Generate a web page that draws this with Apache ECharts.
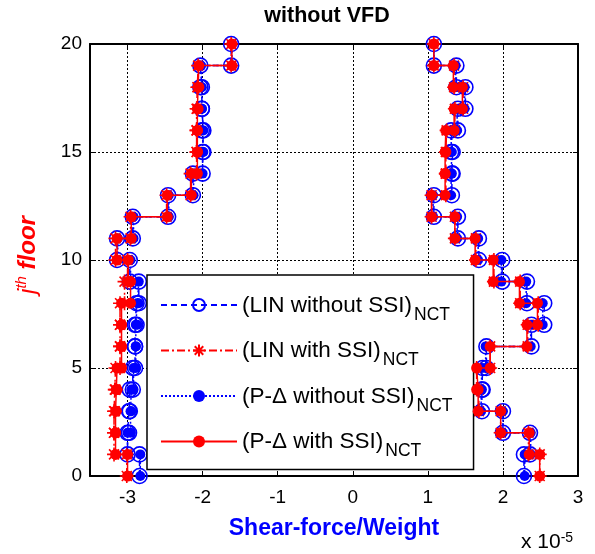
<!DOCTYPE html>
<html>
<head>
<meta charset="utf-8">
<script src="https://cdn.jsdelivr.net/npm/echarts@6/dist/echarts.min.js"></script>
<style>
  html, body { margin: 0; padding: 0; background: #ffffff; }
  #chart { width: 595px; height: 554px; }
</style>
</head>
<body>
<div id="chart"></div>
<script>
// Tick positions
const xTicks = [-3, -2, -1, 0, 1, 2, 3];
const yTicks = [0, 5, 10, 15, 20];

// Legend entries
const seriesNames = ['(LIN without SSI)', '(LIN with SSI)', '(P-\u0394 without SSI)', '(P-\u0394 with SSI)'];

// Story shear / weight (x 10^-5), stories 1..20 — negative envelope
const linNoSsiMin = [-2.84, -3.00, -2.98, -2.97, -2.93, -2.90, -2.90, -2.88, -2.85, -2.97,
                     -3.14, -2.93, -2.46, -2.13, -2.00, -1.99, -2.01, -2.01, -2.03, -1.62];
const linSsiMin   = [-3.01, -3.18, -3.18, -3.17, -3.16, -3.10, -3.10, -3.10, -3.04, -3.00,
                     -3.16, -2.96, -2.48, -2.16, -2.08, -2.08, -2.08, -2.07, -2.06, -1.62];
const pdNoSsiMin  = [-2.83, -3.00, -2.96, -2.95, -2.92, -2.89, -2.89, -2.87, -2.85, -2.96,
                     -3.13, -2.92, -2.45, -2.12, -2.00, -1.99, -2.01, -2.01, -2.02, -1.61];
const pdSsiMin    = [-3.00, -3.16, -3.16, -3.15, -3.14, -3.08, -3.08, -3.08, -2.96, -2.99,
                     -3.14, -2.95, -2.47, -2.15, -2.07, -2.07, -2.07, -2.06, -2.05, -1.61];

// Story shear / weight (x 10^-5), stories 1..20 — positive envelope
const linNoSsiMax = [2.28, 2.36, 2.00, 1.72, 1.73, 1.78, 2.38, 2.55, 2.32, 1.99,
                     1.68, 1.40, 1.08, 1.32, 1.33, 1.31, 1.40, 1.50, 1.38, 1.08];
const linSsiMax   = [2.49, 2.34, 1.97, 1.68, 1.65, 1.83, 2.33, 2.47, 2.23, 1.88,
                     1.64, 1.36, 1.05, 1.24, 1.24, 1.25, 1.36, 1.47, 1.35, 1.08];
const pdNoSsiMax  = [2.29, 2.37, 2.00, 1.71, 1.72, 1.77, 2.37, 2.53, 2.31, 1.98,
                     1.67, 1.39, 1.07, 1.31, 1.32, 1.30, 1.39, 1.49, 1.37, 1.08];
const pdSsiMax    = [2.49, 2.35, 1.97, 1.67, 1.65, 1.83, 2.32, 2.46, 2.22, 1.87,
                     1.63, 1.36, 1.05, 1.23, 1.23, 1.24, 1.35, 1.46, 1.34, 1.08];

// Each story value is held constant from floor (i) to floor (i+1)
function storySteps(values) {
  const pts = [];
  values.forEach(function (v, i) {
    pts.push([v, i]);
    pts.push([v, i + 1]);
  });
  return pts;
}

const BLUE = '#0000ff';
const RED = '#ff0000';
const FONT = 'Liberation Sans, Arial, sans-serif';
const ASTERISK = 'path://M0,-10L0,10M-10,0L10,0M-7.1,-7.1L7.1,7.1M-7.1,7.1L7.1,-7.1';

const styles = [
  { color: BLUE, dash: [6, 4], symbol: 'circle', size: 15,
    item: { color: 'rgba(0,0,0,0)', borderColor: BLUE, borderWidth: 1.6 } },
  { color: RED, dash: [8, 3, 2, 3], symbol: ASTERISK, size: 14,
    item: { color: RED, borderColor: RED, borderWidth: 1.6 } },
  { color: BLUE, dash: [2, 2], symbol: 'circle', size: 10,
    item: { color: BLUE, borderColor: BLUE, borderWidth: 0 } },
  { color: RED, dash: 'solid', symbol: 'circle', size: 11,
    item: { color: RED, borderColor: RED, borderWidth: 0 } }
];

const minSets = [linNoSsiMin, linSsiMin, pdNoSsiMin, pdSsiMin];
const maxSets = [linNoSsiMax, linSsiMax, pdNoSsiMax, pdSsiMax];

const series = [];
seriesNames.forEach(function (name, k) {
  const st = styles[k];
  [minSets[k], maxSets[k]].forEach(function (vals) {
    series.push({
      name: name,
      type: 'line',
      data: storySteps(vals),
      symbol: st.symbol,
      symbolSize: st.size,
      showAllSymbol: true,
      lineStyle: { color: st.color, width: 1.5, type: st.dash },
      itemStyle: st.item,
      z: 2 + k
    });
  });
});

const frameLine = { show: true, onZero: false, lineStyle: { color: '#000', width: 2 } };
const innerTick = function (vals) {
  return { show: true, inside: true, length: 5, customValues: vals, lineStyle: { color: '#000', width: 1 } };
};

const chart = echarts.init(document.getElementById('chart'), null, { renderer: 'canvas' });
chart.setOption({
  animation: false,
  backgroundColor: '#ffffff',
  grid: { left: 90, right: 17, top: 44, bottom: 78, containLabel: false },
  xAxis: [
    {
      type: 'value', position: 'bottom', min: -3.5, max: 3,
      axisLine: frameLine,
      axisTick: innerTick(xTicks),
      axisLabel: { customValues: xTicks, color: '#000', fontSize: 19, fontFamily: FONT, margin: 12 },
      splitLine: { show: true, lineStyle: { color: '#000', width: 1, type: [2, 2] } },
      name: 'Shear-force/Weight',
      nameLocation: 'middle',
      nameGap: 41,
      nameTextStyle: { color: BLUE, fontWeight: 'bold', fontSize: 23, fontFamily: FONT }
    },
    {
      type: 'value', position: 'top', min: -3.5, max: 3,
      axisLine: frameLine,
      axisTick: innerTick(xTicks),
      axisLabel: { show: false },
      splitLine: { show: false }
    }
  ],
  yAxis: [
    {
      type: 'value', position: 'left', min: 0, max: 20, interval: 5,
      axisLine: frameLine,
      axisTick: { show: true, inside: true, length: 5, lineStyle: { color: '#000' } },
      axisLabel: { color: '#000', fontSize: 19, fontFamily: FONT, margin: 8 },
      splitLine: { show: true, lineStyle: { color: '#000', width: 1, type: [2, 2] } },
      name: '{j|j}{t|th}{f| floor}',
      nameLocation: 'middle',
      nameRotate: 90,
      nameGap: 50,
      nameTextStyle: {
        color: RED, fontFamily: FONT, padding: [0, 0, 0, 10],
        rich: {
          j: { color: RED, fontStyle: 'italic', fontSize: 24, lineHeight: 26, fontFamily: FONT, verticalAlign: 'bottom' },
          t: { color: RED, fontStyle: 'italic', fontSize: 15, lineHeight: 15, fontFamily: FONT, verticalAlign: 'top' },
          f: { color: RED, fontStyle: 'italic', fontWeight: 'bold', fontSize: 24, lineHeight: 26, fontFamily: FONT, verticalAlign: 'bottom' }
        }
      }
    },
    {
      type: 'value', position: 'right', min: 0, max: 20, interval: 5,
      axisLine: frameLine,
      axisTick: { show: true, inside: true, length: 5, lineStyle: { color: '#000' } },
      axisLabel: { show: false },
      splitLine: { show: false }
    }
  ],
  legend: {
    data: seriesNames,
    orient: 'vertical',
    left: 147,
    top: 275,
    padding: [19, 21, 9, 13],
    itemGap: 15.5,
    itemWidth: 76,
    itemHeight: 15,
    selectedMode: false,
    backgroundColor: '#ffffff',
    borderColor: '#000',
    borderWidth: 1.5,
    formatter: function (name) { return '{m|' + name + '}{s|NCT}'; },
    textStyle: {
      color: '#000', fontFamily: FONT,
      rich: {
        m: { fontSize: 22.5, lineHeight: 22, fontFamily: FONT, color: '#000', verticalAlign: 'top' },
        s: { fontSize: 17.5, lineHeight: 18, fontFamily: FONT, color: '#000', verticalAlign: 'top', padding: [12, 0, 0, 2] }
      }
    }
  },
  graphic: [
    {
      type: 'text', x: 327, y: 5,
      style: { text: 'without VFD', fill: '#000', font: 'bold 21.5px ' + FONT, align: 'center' }
    },
    {
      type: 'text', left: 521, top: 515,
      style: {
        text: '{a|x 10}{b|-5}',
        rich: {
          a: { fontSize: 21, lineHeight: 22, fontFamily: FONT, fill: '#000', verticalAlign: 'bottom', padding: [17, 0, 0, 0] },
          b: { fontSize: 14, lineHeight: 14, fontFamily: FONT, fill: '#000', verticalAlign: 'top' }
        }
      }
    }
  ],
  series: series
});
</script>
</body>
</html>
